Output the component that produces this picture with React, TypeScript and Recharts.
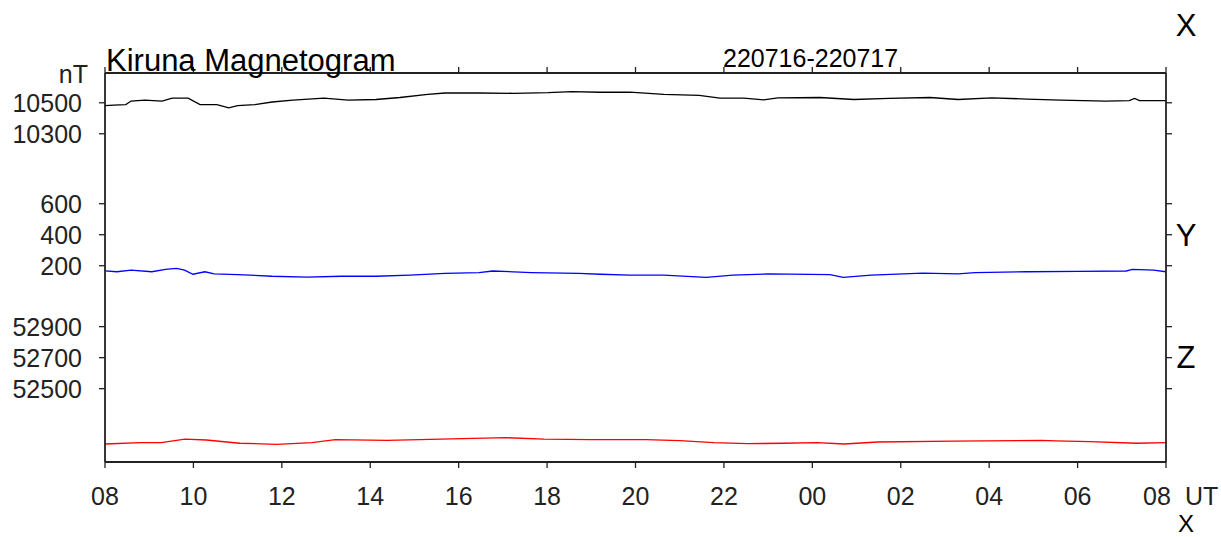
import React from "react";
import { LineChart, Line, XAxis, YAxis } from "recharts";

// Time axis: hours after 08 UT on 220716
const hourTicks = [0, 2, 4, 6, 8, 10, 12, 14, 16, 18, 20, 22, 24];
const hourLabels = ["08", "10", "12", "14", "16", "18", "20", "22", "00", "02", "04", "06", "08"];

// X component (nT)
const xHours = [0, 0.2, 0.47, 0.59, 0.9, 1.29, 1.52, 1.88, 2.15, 2.53, 2.8, 3.0, 3.39, 3.78, 4.25, 4.95, 5.5, 6.13, 6.67, 7.3, 7.69, 8.46, 9.25, 10.02, 10.56, 11.2, 11.87, 12.64, 13.44, 13.91, 14.45, 14.9, 15.22, 16.17, 16.94, 17.73, 18.66, 19.3, 20.06, 20.85, 21.62, 22.64, 23.17, 23.29, 23.4, 24];
const xValues = [10481, 10485, 10488, 10511, 10517, 10511, 10530, 10530, 10488, 10488, 10467, 10481, 10488, 10505, 10517, 10530, 10517, 10521, 10534, 10554, 10563, 10563, 10561, 10565, 10572, 10568, 10569, 10554, 10548, 10530, 10530, 10519, 10532, 10534, 10521, 10528, 10534, 10521, 10532, 10524, 10517, 10511, 10514, 10528, 10514, 10514];

// Y component (nT)
const yHours = [0, 0.27, 0.59, 1.06, 1.37, 1.62, 1.8, 1.99, 2.26, 2.47, 3.0, 3.78, 4.57, 5.34, 6.13, 6.9, 7.69, 8.46, 8.77, 9.64, 10.72, 11.2, 11.87, 12.64, 13.6, 14.2, 15.0, 16.4, 16.7, 17.33, 18.5, 19.3, 19.68, 20.85, 22.0, 23.1, 23.24, 23.72, 24];
const yValues = [167, 161, 172, 161, 176, 183, 172, 145, 161, 147, 143, 132, 127, 132, 132, 139, 150, 156, 166, 156, 150, 145, 139, 139, 125, 139, 147, 143, 125, 139, 152, 147, 156, 161, 163, 166, 176, 172, 161];

// Z component (nT)
const zHours = [0, 0.81, 1.27, 1.81, 2.29, 3.05, 3.89, 4.68, 5.21, 6.38, 7.6, 9.07, 9.93, 10.99, 12.24, 13.0, 13.77, 14.54, 15.34, 16.1, 16.72, 17.48, 19.18, 21.18, 21.5, 22.28, 23.34, 24];
const zValues = [52143, 52152, 52152, 52174, 52169, 52148, 52141, 52152, 52171, 52167, 52174, 52184, 52174, 52171, 52171, 52165, 52152, 52145, 52148, 52152, 52143, 52156, 52161, 52167, 52163, 52158, 52148, 52152];

// Stacked display: each component shifted onto a common nT axis
const componentOffsets: Record<string, number> = { X: -8183, Y: 1066, Z: -52027 };
const yTickValues = [52500, 52700, 52900, 200, 400, 600, 10300, 10500];
const yTickComponents = ["Z", "Z", "Z", "Y", "Y", "Y", "X", "X"];
const stackDomain: [number, number] = [0, 2509];

const virtualTicks = yTickValues.map((v, i) => v + componentOffsets[yTickComponents[i]]);
const tickLabelMap: Record<number, string> = {};
virtualTicks.forEach((t, i) => {
  tickLabelMap[t] = String(yTickValues[i]);
});

const build = (hours: number[], values: number[], comp: string) =>
  hours.map((h, i) => ({ h, v: values[i] + componentOffsets[comp] }));

const xSeries = build(xHours, xValues, "X");
const ySeries = build(yHours, yValues, "Y");
const zSeries = build(zHours, zValues, "Z");

const FONT = "'Liberation Sans', Arial, Helvetica, sans-serif";
const AXIS = { stroke: "#222", strokeWidth: 1.8 };
const TICKLINE = { stroke: "#222", strokeWidth: 1.3 };

const BottomTick = (props: any) => {
  const { x, y, payload } = props;
  const idx = hourTicks.indexOf(payload.value);
  const label = hourLabels[idx] ?? "";
  if (payload.value === 24) {
    return (
      <g>
        <text x={x - 9} y={y} dy="0.71em" textAnchor="middle" fontSize={25} fill="#222" fontFamily={FONT}>
          {label}
        </text>
        <text x={x + 19} y={y} dy="0.71em" textAnchor="start" fontSize={25} fill="#222" fontFamily={FONT}>
          UT
        </text>
      </g>
    );
  }
  return (
    <text x={x} y={y} dy="0.71em" textAnchor="middle" fontSize={25} fill="#222" fontFamily={FONT}>
      {label}
    </text>
  );
};

const EmptyTick = () => <g />;

export default function App() {
  return (
    <div style={{ position: "fixed", left: 0, top: 0, width: 1221, height: 537, background: "#fff" }}>
      <LineChart width={1221} height={537} margin={{ top: 0, right: 0, bottom: 0, left: 0 }}>
        <XAxis
          xAxisId="bottom"
          type="number"
          dataKey="h"
          domain={[0, 24]}
          ticks={hourTicks}
          interval={0}
          allowDataOverflow
          orientation="bottom"
          height={75}
          tickSize={6}
          tickMargin={19}
          tick={BottomTick}
          axisLine={AXIS}
          tickLine={TICKLINE}
        />
        <XAxis
          xAxisId="top"
          type="number"
          dataKey="h"
          domain={[0, 24]}
          ticks={hourTicks}
          interval={0}
          allowDataOverflow
          orientation="top"
          height={73}
          tickSize={6}
          tick={EmptyTick}
          axisLine={AXIS}
          tickLine={TICKLINE}
        />
        <YAxis
          yAxisId="left"
          type="number"
          domain={stackDomain}
          ticks={virtualTicks}
          interval={0}
          allowDataOverflow
          width={105}
          tickSize={6}
          tickMargin={17}
          tickFormatter={(v: number) => tickLabelMap[v] ?? ""}
          tick={{ fontSize: 25, fill: "#222", fontFamily: FONT }}
          axisLine={AXIS}
          tickLine={TICKLINE}
        />
        <YAxis
          yAxisId="right"
          orientation="right"
          type="number"
          domain={stackDomain}
          ticks={virtualTicks}
          interval={0}
          allowDataOverflow
          width={55}
          tickSize={6}
          tick={EmptyTick}
          axisLine={AXIS}
          tickLine={TICKLINE}
        />
        <Line xAxisId="bottom" yAxisId="left" data={xSeries} dataKey="v" type="linear" stroke="#000" strokeWidth={1.3} dot={false} isAnimationActive={false} />
        <Line xAxisId="bottom" yAxisId="left" data={ySeries} dataKey="v" type="linear" stroke="#0000ff" strokeWidth={1.3} dot={false} isAnimationActive={false} />
        <Line xAxisId="bottom" yAxisId="left" data={zSeries} dataKey="v" type="linear" stroke="#ff0000" strokeWidth={1.3} dot={false} isAnimationActive={false} />
      </LineChart>
      <svg width={1221} height={537} style={{ position: "absolute", left: 0, top: 0, overflow: "visible", pointerEvents: "none" }}>
        <text x={106} y={71} fontSize={31} fill="#000" fontFamily={FONT}>Kiruna Magnetogram</text>
        <text x={723} y={67} fontSize={25} fill="#000" fontFamily={FONT}>220716-220717</text>
        <text x={88} y={82.7} fontSize={25} fill="#222" fontFamily={FONT} textAnchor="end">nT</text>
        <text x={1186} y={35.5} fontSize={31} fill="#000" fontFamily={FONT} textAnchor="middle">X</text>
        <text x={1186} y={246} fontSize={31} fill="#000" fontFamily={FONT} textAnchor="middle">Y</text>
        <text x={1186} y={368.3} fontSize={31} fill="#000" fontFamily={FONT} textAnchor="middle">Z</text>
        <text x={1186} y={531.8} fontSize={24} fill="#000" fontFamily={FONT} textAnchor="middle">X</text>
      </svg>
    </div>
  );
}
